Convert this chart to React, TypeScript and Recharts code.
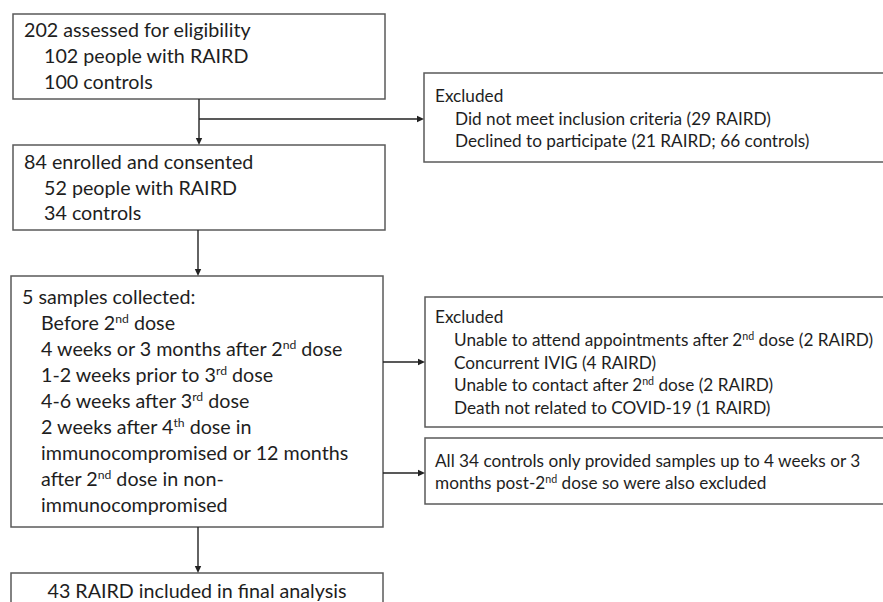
import React from 'react';
import { ComposedChart, XAxis, YAxis, ReferenceArea, ReferenceLine } from 'recharts';

const W = 883;
const H = 602;

// box contents; ^nd / ^rd / ^th mark superscripts
const screenedLines = ['202 assessed for eligibility', '102 people with RAIRD', '100 controls'];
const enrolledLines = ['84 enrolled and consented', '52 people with RAIRD', '34 controls'];
const samplesLines = [
  '5 samples collected:',
  'Before 2^nd dose',
  '4 weeks or 3 months after 2^nd dose',
  '1-2 weeks prior to 3^rd dose',
  '4-6 weeks after 3^rd dose',
  '2 weeks after 4^th dose in',
  'immunocompromised or 12 months',
  'after 2^nd dose in non-',
  'immunocompromised',
];
const finalLines = ['43 RAIRD included in final analysis'];
const excludedFirstLines = [
  'Excluded',
  'Did not meet inclusion criteria (29 RAIRD)',
  'Declined to participate (21 RAIRD; 66 controls)',
];
const excludedSecondLines = [
  'Excluded',
  'Unable to attend appointments after 2^nd dose (2 RAIRD)',
  'Concurrent IVIG (4 RAIRD)',
  'Unable to contact after 2^nd dose (2 RAIRD)',
  'Death not related to COVID-19 (1 RAIRD)',
];
const controlsLines = [
  'All 34 controls only provided samples up to 4 weeks or 3',
  'months post-2^nd dose so were also excluded',
];

// layout in page pixels (axes map 1:1)
const BIG = 19.7;
const SMALL = 17.2;
const boxes = [
  { lines: screenedLines, x1: 13, x2: 385, y1: 14, y2: 99, pad: 11, first: 23, step: 26, size: BIG, indent: 20 },
  { lines: enrolledLines, x1: 13, x2: 385, y1: 145, y2: 230, pad: 11, first: 24, step: 25.5, size: BIG, indent: 20 },
  { lines: samplesLines, x1: 11, x2: 383, y1: 276, y2: 527, pad: 11, first: 28, step: 26, size: BIG, indent: 19 },
  { lines: finalLines, x1: 11, x2: 383, y1: 573, y2: 650, pad: 0, first: 25, step: 26, size: BIG, indent: 0, center: true },
  { lines: excludedFirstLines, x1: 424, x2: 900, y1: 73, y2: 162, pad: 11, first: 29, step: 22.5, size: SMALL, indent: 20 },
  { lines: excludedSecondLines, x1: 425, x2: 900, y1: 297, y2: 427, pad: 10, first: 26, step: 22.8, size: SMALL, indent: 19 },
  { lines: controlsLines, x1: 425, x2: 900, y1: 438, y2: 504, pad: 10, first: 29, step: 22, size: SMALL, indent: 0, flat: true },
];

const arrows = [
  { from: { x: 199, y: 99 }, to: { x: 199, y: 145 } },
  { from: { x: 199, y: 119 }, to: { x: 424, y: 119 } },
  { from: { x: 198, y: 230 }, to: { x: 198, y: 276 } },
  { from: { x: 383, y: 362 }, to: { x: 425, y: 362 } },
  { from: { x: 383, y: 473 }, to: { x: 425, y: 473 } },
  { from: { x: 198, y: 527 }, to: { x: 198, y: 573 } },
];

const FONT = 'Lato, "Open Sans", sans-serif';
const TEXT = '#1e1e1e';

function lineParts(str: string, size: number) {
  const parts = str.split(/\^([a-z]+)/);
  const shift = size * 0.36;
  return parts.map((s, i) => {
    if (i % 2 === 1) {
      return (
        <tspan key={i} fontSize={size * 0.62} dy={-shift}>
          {s}
        </tspan>
      );
    }
    return (
      <tspan key={i} dy={i > 0 ? shift : 0}>
        {s}
      </tspan>
    );
  });
}

const makeBox = (b: any) => (props: any) => {
  const { x, y, width, height } = props;
  return (
    <g>
      <rect x={x} y={y} width={width} height={height} fill="#fff" stroke="#5a5a5a" strokeWidth={1.5} />
      {b.lines.map((ln: string, i: number) => {
        const tx = b.center ? x + width / 2 : x + b.pad + (i > 0 && !b.flat ? b.indent : 0);
        return (
          <text
            key={i}
            x={tx}
            y={y + b.first + i * b.step}
            fontFamily={FONT}
            fontSize={b.size}
            fill={TEXT}
            textAnchor={b.center ? 'middle' : 'start'}
          >
            {lineParts(ln, b.size)}
          </text>
        );
      })}
    </g>
  );
};

const Arrow = (props: any) => {
  const { x1, y1, x2, y2 } = props;
  if ([x1, y1, x2, y2].some((v) => v == null || isNaN(v))) return null;
  const ang = Math.atan2(y2 - y1, x2 - x1);
  const c = Math.cos(ang);
  const s = Math.sin(ang);
  const len = 7;
  const half = 3.2;
  const bx = x2 - len * c;
  const by = y2 - len * s;
  return (
    <g>
      <line x1={x1} y1={y1} x2={bx} y2={by} stroke="#222" strokeWidth={1.4} />
      <polygon
        points={`${x2},${y2} ${bx - half * s},${by + half * c} ${bx + half * s},${by - half * c}`}
        fill="#222"
      />
    </g>
  );
};

export default function App() {
  return (
    <div style={{ position: 'absolute', left: 0, top: 0, width: W, height: H, background: '#fff' }}>
      <ComposedChart width={W} height={H} data={[]} margin={{ top: 0, right: 0, bottom: 0, left: 0 }}>
        <XAxis type="number" dataKey="x" domain={[0, W]} hide allowDataOverflow />
        <YAxis type="number" dataKey="y" domain={[0, H]} reversed hide allowDataOverflow />
        {boxes.map((b, i) => (
          <ReferenceArea
            key={`b${i}`}
            x1={b.x1}
            x2={b.x2}
            y1={b.y1}
            y2={b.y2}
            ifOverflow="hidden"
            shape={makeBox(b)}
          />
        ))}
        {arrows.map((a, i) => (
          <ReferenceLine key={`a${i}`} segment={[a.from, a.to]} shape={Arrow} />
        ))}
      </ComposedChart>
    </div>
  );
}
